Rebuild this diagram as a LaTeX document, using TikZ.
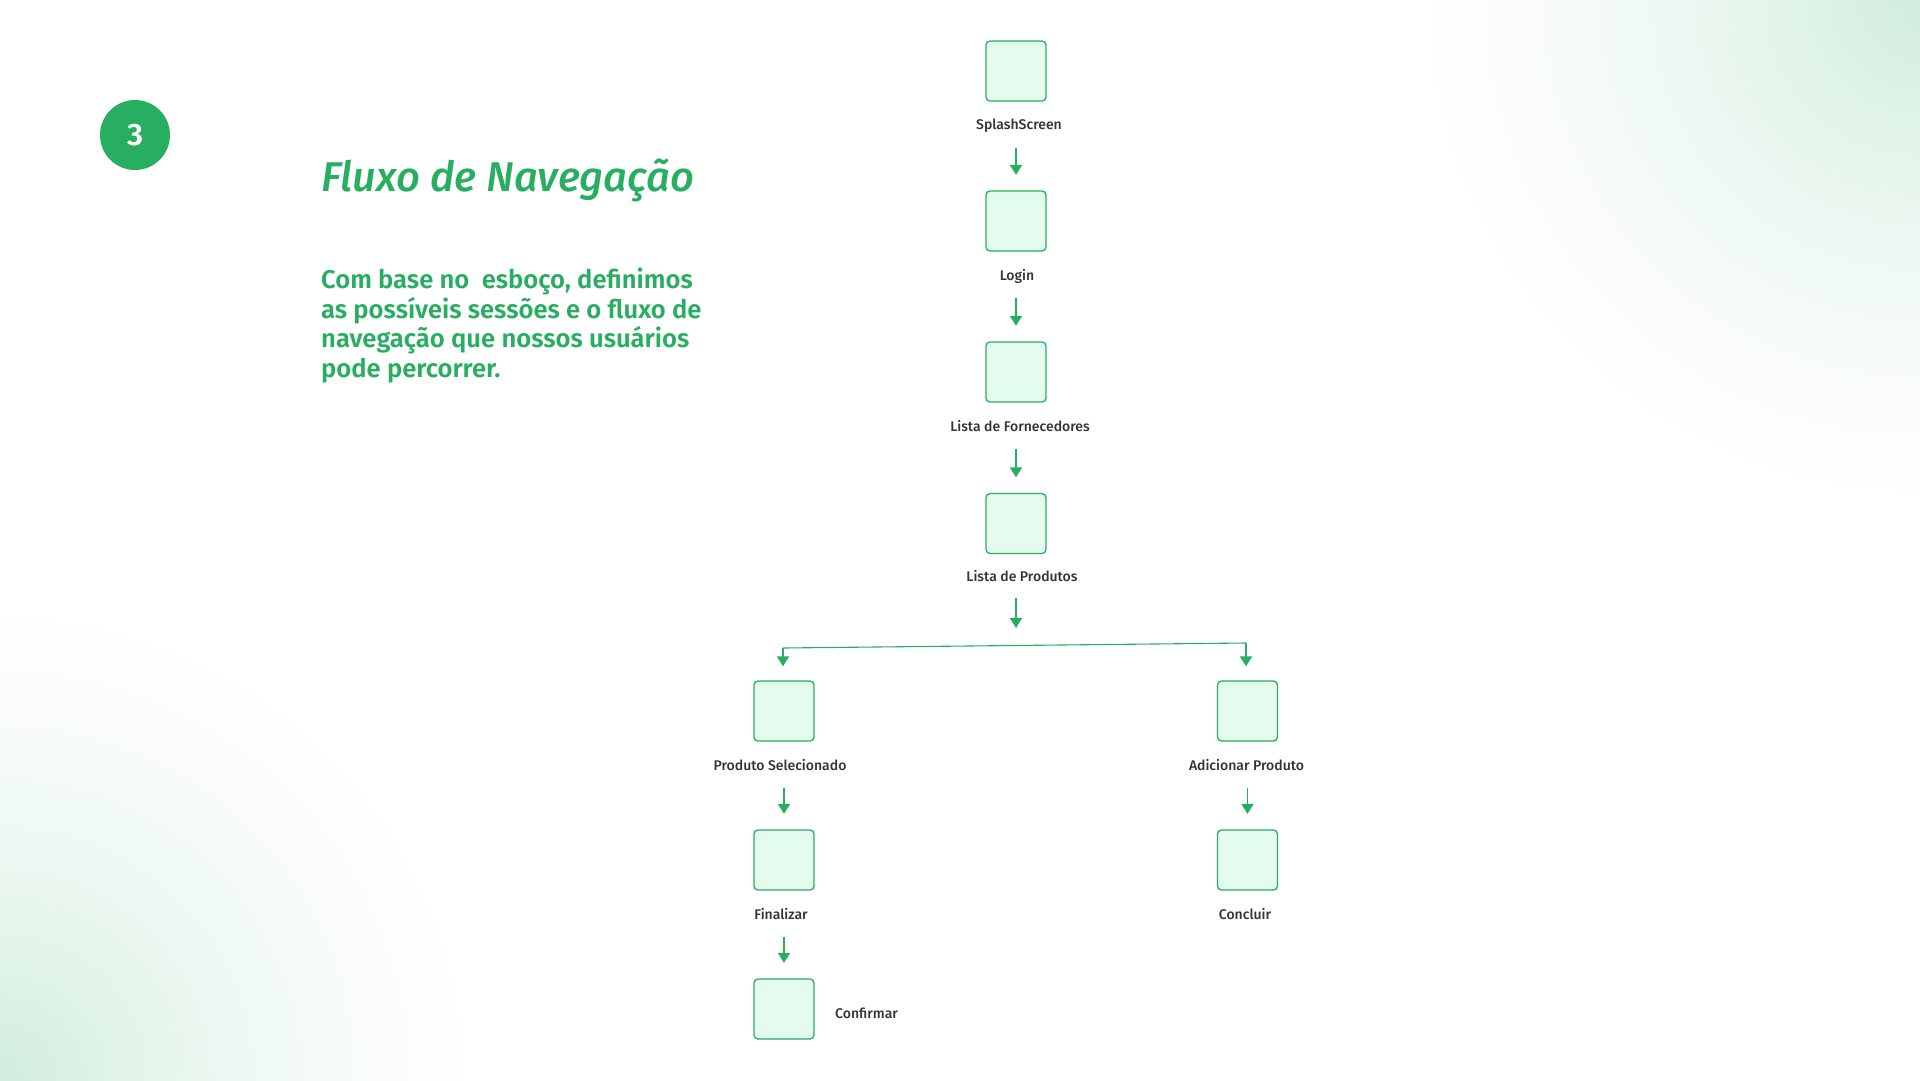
\documentclass[tikz,border=0pt]{standalone}
\usepackage{fontspec}
\setmainfont{Fira Sans}[UprightFont={* Medium}, BoldFont={* SemiBold}, ItalicFont={* Medium Italic}, BoldItalicFont={* SemiBold Italic}]
\usetikzlibrary{arrows.meta}
\definecolor{grn}{HTML}{27AE60}
\definecolor{boxfill}{HTML}{E3FCEE}
\definecolor{txt}{HTML}{333333}
\definecolor{cA}{HTML}{D0EDDD}
\definecolor{cB}{HTML}{E0F3E8}
\definecolor{cC}{HTML}{EFF9F3}
\definecolor{cD}{HTML}{F9FCFA}
\pgfdeclareradialshading{cornerglow}{\pgfpoint{0bp}{0bp}}{color(0bp)=(cA); color(6bp)=(cB); color(13bp)=(cC); color(19bp)=(cD); color(25bp)=(white); color(50bp)=(white)}
\tikzset{
  scr/.style={draw=grn, fill=boxfill, line width=1.3pt, rounded corners=4pt, minimum width=60pt, minimum height=60pt, inner sep=0pt},
  lab/.style={text=txt, font=\fontsize{14}{16}\selectfont, inner sep=0pt, anchor=base},
  arr/.style={draw=grn, line width=1.8pt, -{Triangle[width=12pt,length=10pt]}},
  stem/.style={arr, shorten <=46pt, shorten >=15.5pt},
  bline/.style={draw=grn, line width=1.1pt},
  bodytxt/.style={text=grn, font=\fontsize{25.6}{30}\bfseries, inner sep=0pt, anchor=base west}
}
\begin{document}
\begin{tikzpicture}[x=1pt,y=-1pt]
\useasboundingbox (0,0) rectangle (1920,1080);
\fill[white] (0,0) rectangle (1920,1080);
\begin{scope}
\clip (0,0) rectangle (1920,1080);
\shade[shading=cornerglow] (1920,0) circle [radius=510pt];
\shade[shading=cornerglow] (0,1080) circle [radius=480pt];
\end{scope}

% badge
\node[circle, fill=grn, minimum size=70pt, inner sep=0pt, text=white, font=\fontsize{31}{31}\selectfont\bfseries] (num) at (135,135) {3};

% title and text
\node[anchor=base west, text=grn, inner sep=0pt, font=\fontsize{41.6}{44}\selectfont\itshape] (title) at (321,191) {Fluxo de Navegação};
\node[bodytxt] (b1) at (321,288.5) {Com base no\ \ esboço, definimos};
\node[bodytxt] (b2) at (321,318.2) {as possíveis sessões e o fluxo de};
\node[bodytxt] (b3) at (321,347.9) {navegação que nossos usuários};
\node[bodytxt] (b4) at (321,377.6) {pode percorrer.};

% main column
\node[scr] (ss) at (1016,71) {};
\node[lab] (lss) at (1019,129) {SplashScreen};
\node[scr] (login) at (1016,221) {};
\node[lab] (llogin) at (1017,280) {Login};
\node[scr] (lf) at (1016,372) {};
\node[lab] (llf) at (1020,431) {Lista de Fornecedores};
\node[scr] (lp) at (1016,523.5) {};
\node[lab] (llp) at (1022,581.5) {Lista de Produtos};

\draw[stem] (ss) -- (login);
\draw[stem] (login) -- (lf);
\draw[stem] (lf) -- (lp);

% branch
\coordinate (brC) at (1016,645.5);
\coordinate (brL) at (783,648);
\coordinate (brR) at (1246,643);
\draw[arr, shorten <=44pt, shorten >=17.5pt] (lp) -- (brC);
\draw[bline] (brL) -- (brR);

% left column
\node[scr] (ps) at (784,711) {};
\node[lab] (lps) at (780,770) {Produto Selecionado};
\node[scr] (fin) at (784,860) {};
\node[lab] (lfin) at (781,919.5) {Finalizar};
\node[scr] (conf) at (784,1009) {};
\node[lab, anchor=base west] (lconf) at (835,1018) {Confirmar};

% right column
\node[scr] (ap) at (1247.5,711) {};
\node[lab] (lap) at (1246.5,770) {Adicionar Produto};
\node[scr] (conc) at (1247.5,860) {};
\node[lab] (lconc) at (1245,919.5) {Concluir};

\draw[arr, shorten >=14pt] (brL) -- (brL |- ps.north);
\draw[arr, shorten >=14pt] (brR) -- (brR |- ap.north);
\draw[stem] (ps) -- (fin);
\draw[stem] (fin) -- (conf);
\draw[stem] (ap) -- (conc);
\end{tikzpicture}
\end{document}
